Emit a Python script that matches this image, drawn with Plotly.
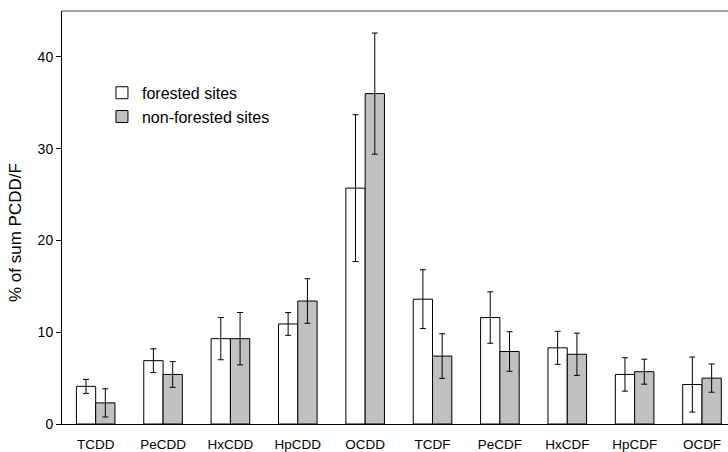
import plotly.graph_objects as go

categories = ["TCDD", "PeCDD", "HxCDD", "HpCDD", "OCDD", "TCDF", "PeCDF", "HxCDF", "HpCDF", "OCDF"]
forested = [4.1, 6.9, 9.3, 10.9, 25.7, 13.6, 11.6, 8.3, 5.4, 4.3]
forested_err = [0.76, 1.3, 2.3, 1.24, 8.0, 3.2, 2.8, 1.8, 1.82, 3.0]
nonforested = [2.3, 5.4, 9.3, 13.4, 36.0, 7.4, 7.9, 7.6, 5.7, 5.0]
nonforested_err = [1.54, 1.4, 2.85, 2.43, 6.6, 2.43, 2.16, 2.3, 1.36, 1.54]

y_ticks = [0, 10, 20, 30, 40]
y_title = "% of sum PCDD/F"

FONT = "Liberation Sans, Arial, sans-serif"

fig = go.Figure()
fig.add_trace(go.Bar(
    name="forested sites", x=categories, y=forested,
    marker=dict(color="white", line=dict(color="black", width=1)),
    error_y=dict(type="data", array=forested_err, color="black", thickness=1, width=3),
))
fig.add_trace(go.Bar(
    name="non-forested sites", x=categories, y=nonforested,
    marker=dict(color="#c0c0c0", line=dict(color="black", width=1)),
    error_y=dict(type="data", array=nonforested_err, color="black", thickness=1, width=3),
))

fig.update_layout(
    width=728, height=452,
    margin=dict(l=62, r=0, t=11, b=28, autoexpand=False),
    paper_bgcolor="white", plot_bgcolor="white",
    barmode="group", bargap=0.427, bargroupgap=0,
    font=dict(family=FONT, size=14, color="black"),
    legend=dict(
        x=0.06, y=0.843, xanchor="left", yanchor="top",
        font=dict(family=FONT, size=16, color="black"),
        bgcolor="rgba(0,0,0,0)", tracegroupgap=0,
    ),
    showlegend=True,
    xaxis=dict(
        type="category", range=[-0.5, 9.386],
        showline=True, linecolor="black", linewidth=1,
        ticks="", showgrid=False, zeroline=False,
        tickfont=dict(family=FONT, size=13.5, color="black"),
        ticklabelstandoff=8, automargin=False,
    ),
    yaxis=dict(
        range=[0, 45], tickvals=y_ticks,
        showline=True, linecolor="black", linewidth=1,
        ticks="outside", ticklen=5, tickcolor="black",
        showgrid=False, zeroline=False, automargin=False,
        tickfont=dict(family=FONT, size=14, color="black"),
    ),
    annotations=[dict(text=y_title, textangle=-90, xref="paper", yref="paper",
                      x=0, y=0.4625, xanchor="center", yanchor="middle", xshift=-46,
                      showarrow=False, font=dict(family=FONT, size=17, color="black"))],
    shapes=[dict(type="line", xref="paper", yref="paper", x0=0, x1=1, y0=1, y1=1,
                 line=dict(color="#808080", width=1.5))],
)

fig.write_html("out.html", config={"displayModeBar": False},
               post_script="document.body.style.margin='0';document.body.style.overflow='hidden';")
